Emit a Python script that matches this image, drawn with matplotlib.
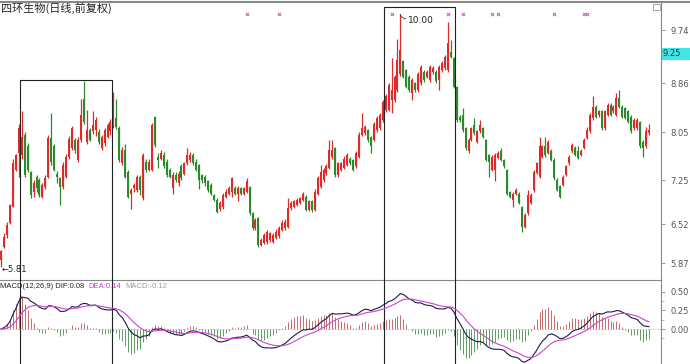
import matplotlib
matplotlib.use("Agg")
import matplotlib.pyplot as plt
import matplotlib.transforms as mtransforms
from matplotlib.patches import Rectangle
import numpy as np
import pandas as pd

TITLE = '四环生物(日线,前复权)'

# daily candles (open, high, low, close)
opens = [5.93, 6.15, 6.35, 6.54, 6.81, 7.42, 7.70, 7.67, 8.00, 7.81, 7.39, 7.06, 7.31, 7.25, 6.98, 7.14,
         7.31, 7.95, 7.81, 7.36, 7.28, 7.14, 7.31, 7.64, 7.78, 7.92, 7.59, 7.92, 8.59, 7.89, 8.08, 8.06,
         8.08, 8.05, 7.78, 7.86, 7.97, 8.06, 8.17, 8.28, 8.11, 7.53, 7.75, 7.39, 7.03, 7.12, 7.09, 7.31,
         6.95, 7.56, 7.42, 7.42, 8.30, 7.64, 7.61, 7.67, 7.56, 7.42, 7.12, 7.34, 7.20, 7.48, 7.36, 7.53,
         7.59, 7.67, 7.56, 7.50, 7.34, 7.31, 7.23, 7.17, 7.01, 6.92, 6.78, 6.81, 6.98,
         7.03, 7.06, 7.12, 7.03, 7.12, 7.03, 7.06, 7.14, 6.70, 6.45, 6.62, 6.18, 6.21, 6.23, 6.26, 6.23,
         6.29, 6.32, 6.43, 6.45, 6.48, 6.79, 6.81, 6.84, 6.87, 6.92, 6.98, 6.76, 6.90, 6.76, 7.03, 7.14,
         7.25, 7.37, 7.45, 7.64, 7.78, 7.34, 7.42, 7.45, 7.50, 7.61, 7.59, 7.48, 7.64, 8.00, 8.03, 8.08,
         7.97, 7.92, 8.08, 8.11, 8.25,
         8.42, 8.42, 8.58, 8.58, 8.75, 9.02, 9.22, 9.08, 8.97, 8.69, 8.86, 8.75, 8.86, 9.05, 8.97, 8.91,
         9.05, 9.05, 8.91, 9.08, 9.11, 9.08, 9.38, 9.27, 8.80,
         8.30, 8.33, 8.11, 7.73, 7.92, 8.17, 7.89, 8.06, 8.11, 7.92, 7.67, 7.42, 7.42, 7.62, 7.73, 7.59,
         7.42, 7.06, 6.92, 7.03, 7.03, 6.81,
         6.48, 6.70, 6.87, 7.09, 7.37, 7.31, 7.64, 7.81, 7.70, 7.73, 7.59, 7.26, 7.15, 7.17, 7.34, 7.53,
         7.73, 7.78, 7.73, 7.67, 7.78, 7.95, 8.06, 8.28, 8.47, 8.33, 8.39, 8.11, 8.33, 8.50, 8.39, 8.33,
         8.61, 8.47, 8.44, 8.39, 8.30, 8.11, 8.11, 8.22, 7.89, 7.81, 8.03]
highs = [6.10, 6.38, 6.55, 6.86, 7.60, 7.68, 8.19, 8.39, 8.05, 7.87, 7.40, 7.25, 7.33, 7.28, 7.20, 7.33,
         8.00, 8.36, 7.85, 7.40, 7.30, 7.55, 7.68, 7.98, 8.15, 7.95, 7.97, 8.60, 8.90, 8.41, 8.12, 8.40,
         8.30, 8.10, 8.00, 8.12, 8.20, 8.26, 8.72, 8.60, 8.15, 7.80, 7.85, 7.42, 7.12, 7.20, 7.34, 7.33,
         7.70, 7.60, 7.60, 8.20, 8.32, 7.70, 7.75, 7.72, 7.60, 7.45, 7.38, 7.38, 7.40, 7.52, 7.56, 7.78,
         7.72, 7.70, 7.60, 7.52, 7.36, 7.33, 7.25, 7.20, 7.03, 6.95, 6.90, 7.04, 7.10,
         7.15, 7.30, 7.15, 7.15, 7.14, 7.14, 7.28, 7.16, 6.72, 6.62, 6.64, 6.30, 6.38, 6.43, 6.40, 6.37,
         6.44, 6.49, 6.59, 6.60, 6.95, 6.90, 6.93, 6.95, 6.98, 7.06, 7.00, 6.93, 6.92, 7.10, 7.32, 7.50,
         7.45, 7.52, 7.92, 7.92, 7.80, 7.56, 7.56, 7.65, 7.70, 7.64, 7.61, 7.73, 8.05, 8.36, 8.17, 8.10,
         7.99, 8.22, 8.31, 8.36, 8.58,
         8.68, 8.86, 9.27, 9.00, 9.60, 10.00, 9.25, 9.10, 9.00, 8.95, 8.88, 9.05, 9.16, 9.08, 9.08, 9.16,
         9.14, 9.08, 9.16, 9.22, 9.33, 9.88, 9.58, 9.30, 8.82,
         8.33, 8.44, 8.13, 7.95, 8.14, 8.28, 8.08, 8.25, 8.13, 7.94, 7.69, 7.67, 7.70, 7.73, 7.78, 7.61,
         7.44, 7.08, 7.05, 7.12, 7.05, 6.83,
         6.70, 7.09, 7.04, 7.42, 7.56, 7.97, 7.84, 7.97, 7.92, 7.76, 7.62, 7.29, 7.17, 7.34, 7.51, 7.67,
         7.87, 7.81, 7.81, 7.76, 7.95, 8.14, 8.36, 8.64, 8.50, 8.42, 8.41, 8.42, 8.53, 8.53, 8.50, 8.70,
         8.75, 8.50, 8.46, 8.42, 8.33, 8.28, 8.28, 8.24, 7.91, 8.14, 8.19]
lows = [5.81, 6.12, 6.30, 6.52, 6.80, 7.40, 7.30, 7.60, 7.30, 7.38, 6.95, 6.98, 7.05, 6.98, 6.95, 7.10,
        7.28, 7.50, 7.40, 7.20, 6.84, 7.10, 7.28, 7.60, 7.75, 7.70, 7.55, 7.88, 8.18, 7.85, 7.90, 8.02,
        7.98, 7.85, 7.75, 7.82, 7.95, 8.00, 8.12, 8.10, 7.55, 7.50, 7.28, 6.95, 6.78, 7.05, 7.05, 7.00,
        6.93, 7.38, 7.40, 7.40, 7.80, 7.45, 7.58, 7.45, 7.30, 7.28, 7.03, 7.22, 7.15, 7.25, 7.33, 7.50,
        7.55, 7.50, 7.40, 7.10, 7.20, 7.15, 7.05, 7.00, 6.90, 6.70, 6.74, 6.78, 6.95,
        7.00, 6.98, 7.00, 6.90, 7.00, 7.00, 7.04, 6.68, 6.43, 6.42, 6.15, 6.16, 6.19, 6.20, 6.22, 6.21,
        6.27, 6.30, 6.41, 6.43, 6.46, 6.76, 6.79, 6.82, 6.85, 6.90, 6.74, 6.74, 6.73, 6.74, 7.00, 7.12,
        7.22, 7.34, 7.43, 7.60, 7.30, 7.30, 7.40, 7.43, 7.48, 7.50, 7.40, 7.45, 7.62, 7.98, 8.00, 7.88,
        7.70, 7.90, 8.05, 8.08, 8.22,
        8.38, 8.40, 8.36, 8.55, 8.72, 8.98, 8.95, 8.78, 8.72, 8.58, 8.72, 8.72, 8.83, 8.88, 8.94, 8.88,
        9.02, 8.86, 8.75, 9.05, 9.08, 9.05, 9.27, 8.78, 8.22,
        8.22, 8.05, 7.75, 7.70, 7.90, 8.00, 7.86, 8.04, 7.95, 7.57, 7.31, 7.40, 7.23, 7.60, 7.57, 7.45,
        7.00, 6.96, 6.81, 7.00, 6.85, 6.40,
        6.45, 6.68, 6.85, 7.06, 7.35, 7.29, 7.62, 7.64, 7.68, 7.57, 7.26, 7.07, 6.96, 7.15, 7.32, 7.51,
        7.71, 7.65, 7.60, 7.65, 7.76, 7.93, 8.03, 8.25, 8.28, 8.30, 8.09, 8.09, 8.31, 8.31, 8.37, 8.31,
        8.45, 8.28, 8.26, 8.20, 8.04, 8.09, 8.09, 7.79, 7.64, 7.79, 8.00]
closes = [6.07, 6.31, 6.50, 6.84, 7.54, 7.67, 8.11, 7.97, 7.34, 7.42, 7.01, 7.20, 7.12, 7.01, 7.17, 7.28,
          7.95, 7.55, 7.42, 7.31, 7.14, 7.50, 7.64, 7.94, 8.11, 7.75, 7.92, 8.33, 8.22, 8.08, 7.92, 8.17,
          8.25, 7.89, 7.97, 8.08, 8.17, 8.22, 8.39, 8.14, 7.59, 7.75, 7.31, 6.98, 7.09, 7.17, 7.31, 7.09,
          7.67, 7.42, 7.56, 8.17, 7.83, 7.59, 7.70, 7.48, 7.34, 7.31, 7.34, 7.25, 7.36, 7.28, 7.53, 7.67,
          7.67, 7.53, 7.42, 7.25, 7.25, 7.20, 7.09, 7.03, 6.92, 6.73, 6.87, 7.01, 7.06,
          7.12, 7.28, 7.03, 7.12, 7.03, 7.12, 7.23, 6.70, 6.45, 6.59, 6.18, 6.26, 6.34, 6.40, 6.37, 6.34,
          6.40, 6.45, 6.54, 6.56, 6.79, 6.87, 6.90, 6.92, 6.95, 7.03, 6.76, 6.90, 6.76, 7.06, 7.28, 7.39,
          7.42, 7.48, 7.75, 7.75, 7.34, 7.53, 7.53, 7.61, 7.67, 7.53, 7.42, 7.70, 8.00, 8.11, 8.14, 7.92,
          7.81, 8.19, 8.28, 8.33, 8.55,
          8.64, 8.83, 8.75, 8.97, 9.25, 9.41, 8.97, 8.80, 8.75, 8.91, 8.75, 9.02, 9.13, 8.91, 9.05, 9.13,
          9.11, 8.89, 9.13, 9.19, 9.30, 9.52, 9.30, 8.80, 8.25,
          8.25, 8.08, 7.78, 7.92, 8.11, 8.03, 8.06, 8.17, 7.97, 7.59, 7.56, 7.64, 7.67, 7.70, 7.59, 7.48,
          7.03, 6.98, 7.03, 7.09, 6.87, 6.48,
          6.67, 7.01, 7.01, 7.39, 7.53, 7.81, 7.81, 7.67, 7.89, 7.59, 7.28, 7.09, 6.98, 7.31, 7.48, 7.64,
          7.84, 7.67, 7.62, 7.73, 7.92, 8.08, 8.33, 8.47, 8.30, 8.39, 8.11, 8.39, 8.50, 8.33, 8.47, 8.61,
          8.47, 8.30, 8.28, 8.22, 8.06, 8.25, 8.25, 7.81, 7.78, 8.06, 8.08]

price_ticks = [9.74, 8.86, 8.05, 7.25, 6.52, 5.87]
macd_ticks = [0.50, 0.25, 0.00]
cursor_price = 9.25
# highlighted ranges: (first candle, last candle, top price)
boxes = [(7, 37, 8.91), (130, 153, 10.12)]
signal_days = [83, 94, 132, 151, 156, 166, 168, 187, 197, 198]
macd_parts = ['MACD(12,26,9) DIF:0.08', 'DEA:0.14', 'MACD:-0.12']

RED = '#dd2b2b'
GREEN = '#2b8a2b'

o = np.array(opens)
h = np.array(highs)
l = np.array(lows)
c = np.array(closes)
assert len(o) == len(h) == len(l) == len(c)
n = len(c)
idx = np.arange(n)

s = pd.Series(c)
dif = (s.ewm(span=12, adjust=False).mean() - s.ewm(span=26, adjust=False).mean()).values
dea = pd.Series(dif).ewm(span=9, adjust=False).mean().values
hist = 2 * (dif - dea)

W, H = 690, 364
fig = plt.figure(figsize=(W / 100, H / 100), dpi=100)
ax = fig.add_axes([0, 1 - 280 / H, 661 / W, 277 / H])
ax2 = fig.add_axes([0, 0, 661 / W, 84 / H])

# first candle at x=1px, last at x=649px
span = (n - 1) * 661 / 648
x0 = -span / 661
xlim = (x0, x0 + span)

up = c >= o
col = np.where(up, RED, GREEN)
ax.vlines(idx, l, h, colors=col, lw=0.9)
body_lo = np.minimum(o, c)
body_h = np.maximum(np.abs(c - o), 0.02)
ax.bar(idx, body_h, bottom=body_lo, width=0.68, color=col, linewidth=0)

ax.set_xlim(xlim)
ax.set_ylim(5.596, 10.189)

# min / max labels
imin = int(np.argmin(l))
ax.annotate('←' + f'{l[imin]:.2f}', xy=(imin, l[imin]), xytext=(1, -2),
            textcoords='offset pixels', fontsize=6, va='center', ha='left', color='#222')
imax = int(np.argmax(h))
ax.annotate(f'{h[imax]:.2f}', xy=(imax, h[imax]), xytext=(8, -6), textcoords='offset pixels',
            fontsize=6.5, va='center', ha='left', color='#222',
            arrowprops=dict(arrowstyle='-', color='#333', lw=0.6,
                            connectionstyle='angle3,angleA=0,angleB=90', shrinkA=0, shrinkB=0))

# signal marks
tr = mtransforms.blended_transform_factory(ax.transData, ax.transAxes)
ax.scatter(signal_days, [0.96] * len(signal_days), transform=tr, marker='x', s=5,
           color='#c050c0', lw=0.7, zorder=5)

# boxes
for b0, b1, top in boxes:
    ax.plot([b0 - 0.5, b0 - 0.5, b1 + 0.5, b1 + 0.5], [5.596, top, top, 5.596],
            color='#222', lw=0.8, clip_on=False)
    for xx in (b0 - 0.5, b1 + 0.5):
        ax2.axvline(xx, color='#222', lw=0.8)

# MACD panel
hcol = np.where(hist >= 0, '#c86a6a', '#5f9f5f')
ax2.vlines(idx, 0, hist, colors=hcol, lw=0.7)
ax2.axhline(0, color='#999', lw=0.6, ls=(0, (1, 2)))
ax2.plot(idx, dif, color='#1c1c4c', lw=0.8)
ax2.plot(idx, dea, color='#cc44cc', lw=0.8)
ax2.set_xlim(xlim)
ax2.set_ylim(-0.47, 0.66)

for a, ticks in ((ax, price_ticks), (ax2, macd_ticks)):
    a.yaxis.tick_right()
    a.set_yticks(ticks)
    a.set_yticklabels([f'{t:.2f}' for t in ticks])
    a.tick_params(axis='y', length=3, width=0.6, color='#888', labelsize=6,
                  labelcolor='#555', pad=4)
    a.set_xticks([])
    for side in ('left', 'top', 'bottom'):
        a.spines[side].set_visible(False)
    a.spines['right'].set_color('#888')
    a.spines['right'].set_linewidth(0.8)
    a.patch.set_alpha(0)
ax2.set_yticks([0.375, 0.125, -0.125], minor=True)
ax2.tick_params(axis='y', which='minor', length=2, color='#aaa')
ax.spines['bottom'].set_visible(True)
ax.spines['bottom'].set_color('#888')
ax.spines['bottom'].set_linewidth(0.8)

# cursor price tag
tr2 = mtransforms.blended_transform_factory(ax.transAxes, ax.transData)
ax.add_patch(Rectangle((1.0, cursor_price), 29 / 661, 0.19, transform=tr2,
                       facecolor='#3ee6e6', edgecolor='none', clip_on=False))
ax.text(1.002, cursor_price + 0.095, f'{cursor_price:.2f}', transform=tr2, fontsize=6,
        va='center', ha='left', color='#333', clip_on=False)

# headings
fig.text(0.001, 1 - 8 / H, TITLE, fontsize=8, va='center', ha='left',
         family=['Noto Sans CJK SC', 'DejaVu Sans'], color='#222')
xs = [0, 88, 125]
cols = ['#222', '#c040c0', '#999']
for t, x, cc in zip(macd_parts, xs, cols):
    fig.text(x / W, 1 - 286 / H, t, fontsize=5.5, va='center', ha='left', color=cc,
             family=['Liberation Sans', 'DejaVu Sans'])

# frame bits
fig.add_artist(plt.Line2D([0, 1], [1 - 1.5 / H, 1 - 1.5 / H], color='#888', lw=1.5))
fig.add_artist(Rectangle((653 / W, 1 - 10 / H), 7 / W, 6 / H, fill=False, ec='#999', lw=0.6))

fig.savefig('out.png', dpi=100)
